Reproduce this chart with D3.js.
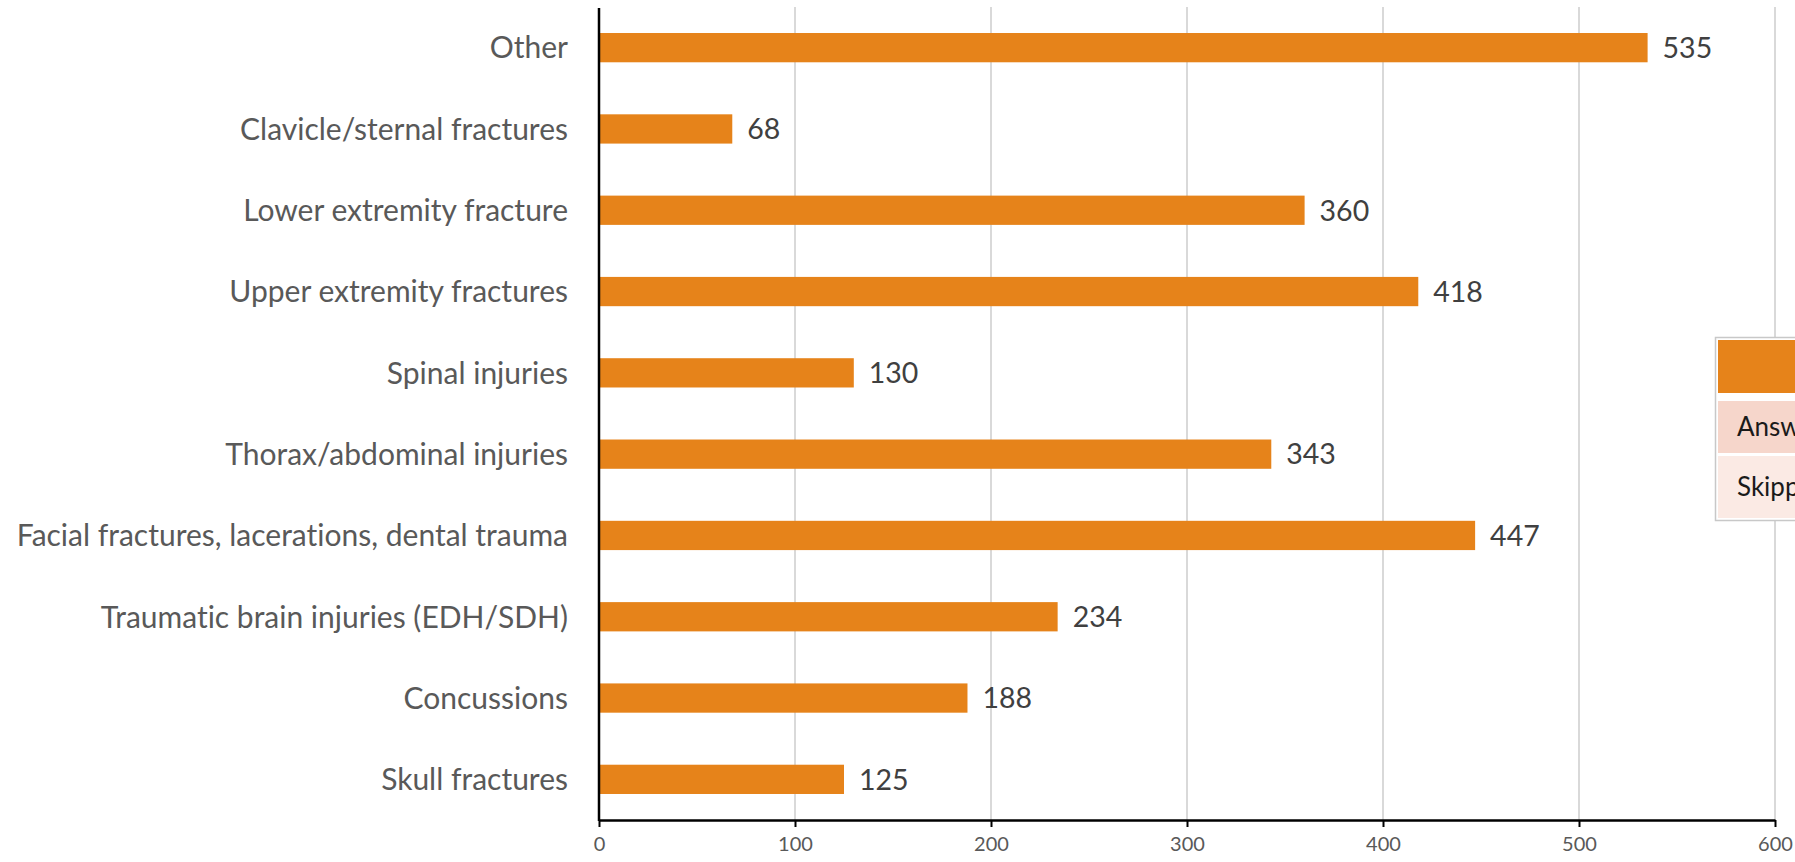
<!DOCTYPE html>
<html><head><meta charset="utf-8">
<script src="https://cdn.jsdelivr.net/npm/d3@7"></script>
<style>body{margin:0;background:#fff;overflow:hidden}svg{display:block}text{font-variant-ligatures:none;font-feature-settings:"liga" 0}</style>
</head><body>
<svg id="c" width="1795" height="862"></svg>
<script>
const categories = ["Other","Clavicle/sternal fractures","Lower extremity fracture","Upper extremity fractures","Spinal injuries","Thorax/abdominal injuries","Facial fractures, lacerations, dental trauma","Traumatic brain injuries (EDH/SDH)","Concussions","Skull fractures"];
const values = [535,68,360,418,130,343,447,234,188,125];
const xTicks = [0,100,200,300,400,500,600];
const legendRows = ["", "Answered", "Skipped"];

const svg = d3.select("#c");
const font = "Lato, 'Open Sans', sans-serif";
const x = d3.scaleLinear().domain([0,600]).range([599,1775]);
const y = d3.scaleBand().domain(categories).range([7,820]).paddingInner(0.64).paddingOuter(0.32);

// gridlines
svg.append("g").selectAll("line").data(xTicks.filter(d=>d>0)).join("line")
  .attr("x1",d=>x(d)).attr("x2",d=>x(d)).attr("y1",7).attr("y2",820)
  .attr("stroke","#d9d9d9").attr("stroke-width",2);

// bars
svg.append("g").selectAll("rect").data(values).join("rect")
  .attr("x",x(0)).attr("y",(d,i)=>y(categories[i]))
  .attr("width",d=>x(d)-x(0)).attr("height",y.bandwidth())
  .attr("fill","#e6831a");

// value labels
svg.append("g").selectAll("text").data(values).join("text")
  .attr("x",d=>x(d)+15).attr("y",(d,i)=>y(categories[i])+y.bandwidth()/2)
  .attr("dy","0.36em").attr("font-family",font).attr("font-size",28.5)
  .attr("fill","#404040").text(d=>d);

// category labels
svg.append("g").selectAll("text").data(categories).join("text")
  .attr("x",568).attr("y",d=>y(d)+y.bandwidth()/2).attr("dy","0.36em")
  .attr("text-anchor","end").attr("font-family",font).attr("font-size",30)
  .attr("fill","#595959").text(d=>d);

// x axis
const xa = svg.append("g").attr("transform","translate(0,820)")
  .call(d3.axisBottom(x).tickValues(xTicks).tickSize(7).tickPadding(10).tickSizeOuter(0));
xa.select(".domain").attr("stroke","#000").attr("stroke-width",2.5);
xa.selectAll(".tick line").attr("stroke","#000").attr("stroke-width",2);
xa.selectAll("text").attr("font-family",font).attr("font-size",20).attr("fill","#595959");

// y axis line
svg.append("line").attr("x1",x(0)).attr("x2",x(0)).attr("y1",8).attr("y2",821)
  .attr("stroke","#000").attr("stroke-width",2.5);

// legend table (cut off at the right edge, as in the reference)
const lg = svg.append("g");
lg.append("rect").attr("x",1715.5).attr("y",337.5).attr("width",100).attr("height",183)
  .attr("fill","#fff").attr("stroke","#c8c8c8").attr("stroke-width",1.5);
const rowY = [[340,393],[401,453],[456,518]];
const rowFill = ["#e6831a","#f6d6cb","#fbeae4"];
lg.selectAll("rect.r").data(legendRows).join("rect").attr("class","r")
  .attr("x",1718).attr("y",(d,i)=>rowY[i][0]).attr("width",90)
  .attr("height",(d,i)=>rowY[i][1]-rowY[i][0]).attr("fill",(d,i)=>rowFill[i]);
lg.selectAll("text").data(legendRows).join("text")
  .attr("x",1737).attr("y",(d,i)=>(rowY[i][0]+rowY[i][1])/2).attr("dy","0.36em")
  .attr("font-family",font).attr("font-size",26).attr("fill","#1a1a1a").text(d=>d);
</script>
</body></html>
